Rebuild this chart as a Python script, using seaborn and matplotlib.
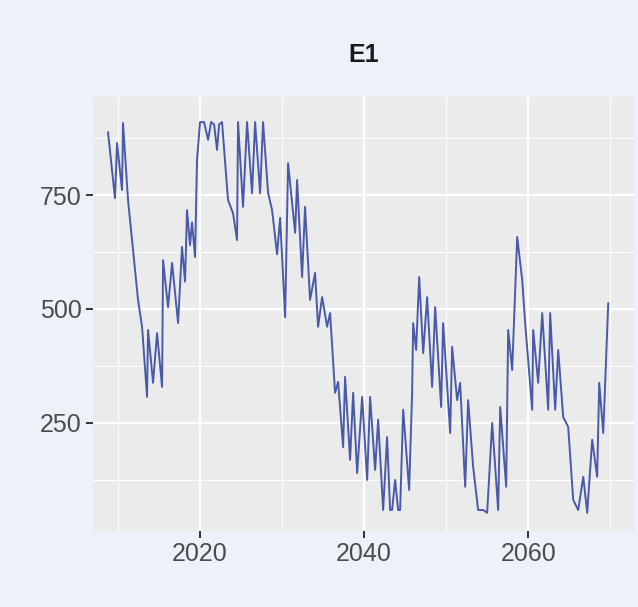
import numpy as np
import pandas as pd
import matplotlib
matplotlib.use('Agg')
import matplotlib.pyplot as plt
import seaborn as sns
from matplotlib.ticker import FixedLocator

# series E1, values
years = [2008.78, 2009.63, 2009.88, 2010.49, 2010.61, 2011.22, 2011.83, 2012.44, 2012.93,
         2013.54, 2013.66, 2014.27, 2014.76, 2015.37, 2015.49, 2016.10, 2016.59, 2017.32,
         2017.80, 2018.17, 2018.41, 2018.78, 2019.02, 2019.39, 2019.63, 2020.00, 2020.49,
         2020.98, 2021.34, 2021.71, 2022.07, 2022.32, 2022.68, 2023.41, 2024.02, 2024.51,
         2024.63, 2025.24, 2025.73, 2026.34, 2026.71, 2027.32, 2027.68, 2028.29, 2028.78,
         2029.39, 2029.76, 2030.37, 2030.73, 2031.59, 2031.83, 2032.44, 2032.80, 2033.41,
         2034.02, 2034.39, 2034.88, 2035.49, 2035.85, 2036.46, 2036.83, 2037.44, 2037.68,
         2038.29, 2038.66, 2039.15, 2039.76, 2040.37, 2040.73, 2041.34, 2041.71, 2042.32,
         2042.80, 2043.17, 2043.41, 2043.78, 2044.15, 2044.39, 2044.76, 2045.49, 2045.85,
         2045.98, 2046.34, 2046.71, 2047.20, 2047.68, 2048.29, 2048.66, 2049.39, 2049.63,
         2050.49, 2050.73, 2051.34, 2051.71, 2052.32, 2052.68, 2053.29, 2053.90, 2054.51,
         2055.00, 2055.61, 2056.34, 2056.59, 2057.32, 2057.56, 2058.05, 2058.66, 2059.27,
         2059.63, 2060.49, 2060.61, 2061.22, 2061.71, 2062.44, 2062.68, 2063.29, 2063.66,
         2064.27, 2064.88, 2065.49, 2066.10, 2066.71, 2067.20, 2067.80, 2068.41, 2068.66,
         2069.15, 2069.76]
storage = [888, 743, 864, 761, 908, 739, 629, 520, 461,
           307, 454, 338, 447, 329, 607, 504, 601, 469,
           636, 560, 717, 640, 690, 614, 827, 910, 910,
           871, 910, 905, 849, 905, 910, 739, 710, 651,
           910, 724, 910, 754, 910, 754, 910, 755, 717,
           620, 700, 482, 820, 667, 783, 570, 724, 520,
           579, 461, 526, 461, 491, 316, 340, 197, 351,
           169, 316, 140, 307, 125, 307, 147, 257, 59,
           219, 59, 59, 125, 59, 59, 279, 103, 316,
           469, 410, 570, 403, 526, 329, 504, 285, 469,
           228, 417, 300, 338, 110, 300, 154, 59, 59,
           53, 250, 59, 285, 110, 454, 366, 658, 564,
           469, 279, 454, 338, 491, 279, 491, 279, 410,
           263, 241, 81, 59, 132, 53, 213, 132, 338,
           228, 513]

x_major = [2020, 2040, 2060]
x_minor = [2010, 2030, 2050, 2070]
y_major = [250, 500, 750]
y_minor = [125, 375, 625, 875]

df = pd.DataFrame({'year': years, 'value': storage})

sns.set_theme(style='darkgrid')
plt.rcParams['font.family'] = ['Liberation Sans', 'DejaVu Sans']

fig = plt.figure(figsize=(6.38, 6.07), dpi=100, facecolor='#EDF1F9')
ax = fig.add_axes([93/638, 1 - 531/607, (634 - 93)/638, (531 - 97)/607])
ax.set_facecolor('#EBEBEB')

sns.lineplot(data=df, x='year', y='value', estimator=None, sort=False,
             color='#4A5AA8', linewidth=1.4, ax=ax)

ax.set_xlim(2006.95, 2072.9)
ax.set_ylim(13, 965)
ax.set_xticks(x_major)
ax.set_yticks(y_major)
ax.xaxis.set_minor_locator(FixedLocator(x_minor))
ax.yaxis.set_minor_locator(FixedLocator(y_minor))
ax.grid(which='major', color='white', linewidth=1.6)
ax.grid(which='minor', color='white', linewidth=0.7)
ax.set_axisbelow(True)
for s in ax.spines.values():
    s.set_visible(False)

ax.tick_params(which='major', length=5, width=1.4, color='#333333',
               labelsize=18, labelcolor='#4D4D4D', pad=3,
               bottom=True, left=True)
ax.tick_params(which='minor', length=0)
ax.set_xlabel('')
ax.set_ylabel('')
ax.set_title('E1', fontsize=18, fontweight='bold', color='#1A1A1A', pad=25)

fig.savefig('out.png', dpi=100, facecolor=fig.get_facecolor())
